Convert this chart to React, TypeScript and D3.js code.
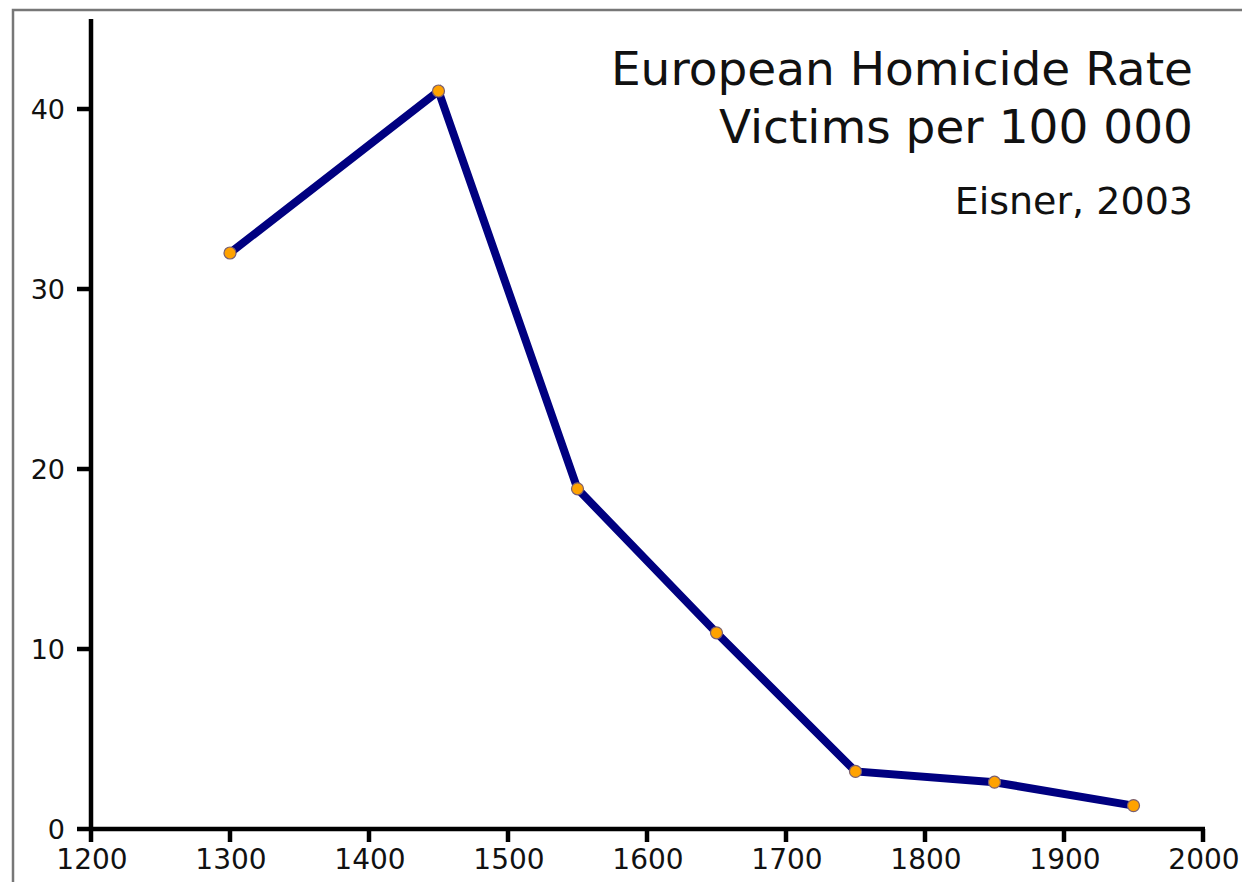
import { useEffect, useRef } from "react";
import * as d3 from "d3";

const years = [1300, 1450, 1550, 1650, 1750, 1850, 1950];
const rates = [32, 41, 18.9, 10.9, 3.2, 2.6, 1.3];
const xTicks = [1200, 1300, 1400, 1500, 1600, 1700, 1800, 1900, 2000];
const yTicks = [0, 10, 20, 30, 40];
const titleLines = ["European Homicide Rate", "Victims per 100 000"];
const source = "Eisner, 2003";

export default function App() {
  const svgRef = useRef<SVGSVGElement>(null);

  useEffect(() => {
    const svg = d3.select(svgRef.current);
    svg.selectAll("*").remove();

    const width = 1242;
    const height = 882;
    const font = "DejaVu Sans, sans-serif";

    // plot area
    const x = d3.scaleLinear().domain([1200, 2000]).range([91, 1203]);
    const y = d3.scaleLinear().domain([0, 45]).range([829, 19]);

    svg.append("rect").attr("width", width).attr("height", height).attr("fill", "#fff");

    // frame (only top and left edges show)
    svg
      .append("path")
      .attr("d", `M13,${height} V10 H${width}`)
      .attr("fill", "none")
      .attr("stroke", "#777")
      .attr("stroke-width", 2.5);

    // axes
    const axes = svg.append("g").attr("stroke", "#000").attr("stroke-width", 4.5);
    axes
      .append("line")
      .attr("x1", x(1200))
      .attr("x2", x(1200))
      .attr("y1", y(45))
      .attr("y2", y(0) + 2);
    axes
      .append("line")
      .attr("x1", x(1200) - 14)
      .attr("x2", x(2000) + 2)
      .attr("y1", y(0))
      .attr("y2", y(0));

    axes
      .selectAll("line.yt")
      .data(yTicks.filter(d => d > 0))
      .enter()
      .append("line")
      .attr("class", "yt")
      .attr("x1", x(1200) - 14)
      .attr("x2", x(1200))
      .attr("y1", d => y(d))
      .attr("y2", d => y(d));

    axes
      .selectAll("line.xt")
      .data(xTicks)
      .enter()
      .append("line")
      .attr("class", "xt")
      .attr("x1", d => x(d))
      .attr("x2", d => x(d))
      .attr("y1", y(0))
      .attr("y2", y(0) + 13);

    svg
      .selectAll("text.yl")
      .data(yTicks)
      .enter()
      .append("text")
      .attr("class", "yl")
      .attr("x", 65)
      .attr("y", d => y(d) + 10)
      .attr("text-anchor", "end")
      .attr("font-family", font)
      .attr("font-size", 27)
      .attr("fill", "#111")
      .text(d => d);

    svg
      .selectAll("text.xl")
      .data(xTicks)
      .enter()
      .append("text")
      .attr("class", "xl")
      .attr("x", d => x(d) + 1)
      .attr("y", y(0) + 40)
      .attr("text-anchor", "middle")
      .attr("font-family", font)
      .attr("font-size", 28)
      .attr("fill", "#111")
      .text(d => d);

    // series line
    const pts = years.map((yr, i) => [yr, rates[i]] as [number, number]);
    const line = d3
      .line<[number, number]>()
      .x(d => x(d[0]))
      .y(d => y(d[1]));

    svg
      .append("path")
      .datum(pts)
      .attr("d", line)
      .attr("fill", "none")
      .attr("stroke", "#000080")
      .attr("stroke-width", 8)
      .attr("stroke-linejoin", "miter");

    svg
      .selectAll("circle")
      .data(pts)
      .enter()
      .append("circle")
      .attr("cx", d => x(d[0]))
      .attr("cy", d => y(d[1]))
      .attr("r", 6)
      .attr("fill", "#ffa200")
      .attr("stroke", "#7a5f70")
      .attr("stroke-width", 1.2);

    // title block
    svg
      .selectAll("text.title")
      .data(titleLines)
      .enter()
      .append("text")
      .attr("class", "title")
      .attr("x", 1193)
      .attr("y", (_, i) => 85 + i * 58)
      .attr("text-anchor", "end")
      .attr("font-family", font)
      .attr("font-size", 47)
      .attr("fill", "#111")
      .text(d => d);

    svg
      .append("text")
      .attr("x", 1193)
      .attr("y", 214)
      .attr("text-anchor", "end")
      .attr("font-family", font)
      .attr("font-size", 38)
      .attr("fill", "#111")
      .text(source);
  }, []);

  return (
    <svg
      ref={svgRef}
      width={1242}
      height={882}
      style={{ position: "absolute", left: 0, top: 0 }}
    />
  );
}
